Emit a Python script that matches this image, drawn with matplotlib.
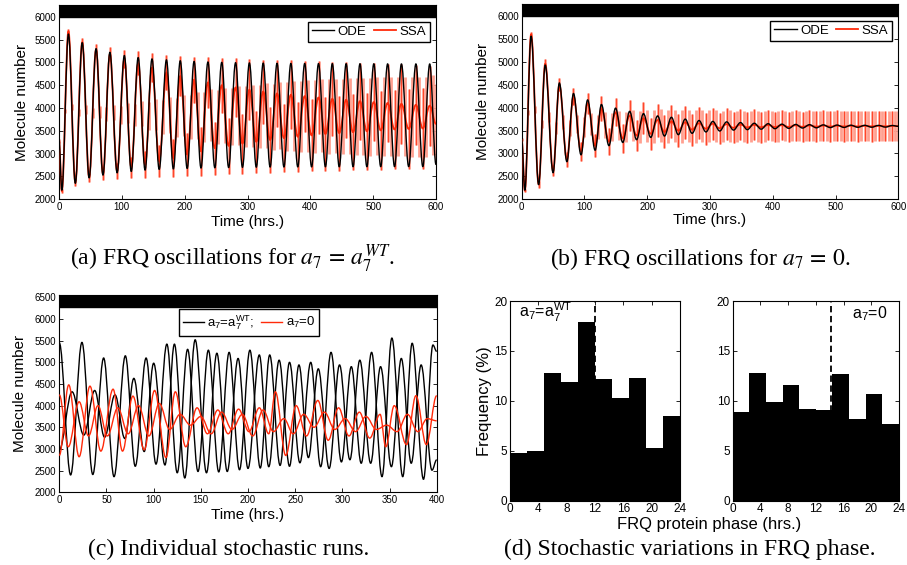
import matplotlib
matplotlib.use('Agg')
import matplotlib.pyplot as plt
from matplotlib.path import Path
from matplotlib.patches import PathPatch
from matplotlib.lines import Line2D

plt.rcParams['font.family'] = ['Liberation Sans', 'DejaVu Sans']
plt.rcParams['mathtext.fontset'] = 'custom'
plt.rcParams['mathtext.rm'] = 'Liberation Sans'
plt.rcParams['mathtext.it'] = 'Liberation Sans:italic'
plt.rcParams['mathtext.bf'] = 'Liberation Sans:bold'

# ---------------- data ----------------
# (a) a7 = a7^WT : times of successive extrema (start, trough, peak, ..., end)
a_t = [0, 4.5, 15, 26, 37, 48, 59, 70, 81, 92.5, 104, 115, 126, 137, 148, 159.5,
       171, 182, 193, 204, 215, 226, 237, 248, 259, 270, 281, 292, 303, 314, 325,
       336, 347, 358, 369, 380, 391, 402, 413, 424, 435, 446, 457, 468, 479, 490,
       501, 512, 523, 534, 545, 556.5, 568, 579, 590, 600]
a_ode = [3300, 2200, 5620, 2350, 5430, 2470, 5300, 2530, 5220, 2580, 5150, 2610,
         5105, 2640, 5075, 2655, 5055, 2665, 5035, 2675, 5020, 2685, 5008, 2690,
         5000, 2695, 4993, 2700, 4988, 2703, 4984, 2706, 4980, 2708, 4977, 2710,
         4975, 2710, 4973, 2712, 4971, 2712, 4970, 2714, 4969, 2714, 4968, 2715,
         4967, 2715, 4966, 2716, 4966, 2716, 4965, 2760]
a_ssa = [3280, 2180, 5680, 2370, 5440, 2480, 5280, 2560, 5180, 2620, 5080, 2700,
         4980, 2760, 4880, 2830, 4780, 2900, 4700, 2980, 4620, 3050, 4560, 3120,
         4500, 3170, 4450, 3220, 4400, 3260, 4360, 3300, 4320, 3340, 4290, 3370,
         4260, 3400, 4230, 3430, 4200, 3450, 4180, 3470, 4150, 3490, 4130, 3510,
         4110, 3530, 4090, 3540, 4070, 3550, 4050, 3650]
a_ssa_sd = [40, 40, 60, 70, 90, 100, 120, 140, 160, 180, 200, 230, 260, 290, 320,
            350, 380, 410, 440, 470, 500, 530, 560, 580, 600, 620, 640, 655, 670,
            685, 700, 715, 730, 745, 760, 770, 780, 790, 800, 808, 815, 822, 830,
            836, 842, 848, 854, 858, 862, 866, 870, 873, 876, 878, 880, 880]
# SSA mean and spread where the curve crosses mid-level
a_mid_t = [10, 20.5, 31.5, 42.5, 53.5, 64.5, 75.5, 87, 98, 109.5, 120.5, 131.5,
           142.5, 154, 165, 176.5, 187.5, 198.5, 209.5, 220.5, 231.5, 242.5, 253.5,
           264.5, 275.5, 286.5, 297.5, 308.5, 319.5, 330.5, 341.5, 352.5, 363.5,
           374.5, 385.5, 396.5, 407.5, 418.5, 429.5, 440.5, 451.5, 462.5, 473.5,
           484.5, 495.5, 506.5, 517.5, 528.5, 539.5, 551, 562, 573.5, 584.5, 595]
a_mid_v = [3930, 4020, 3900, 3960, 3880, 3920, 3870, 3900, 3850, 3890, 3840, 3870,
           3820, 3855, 3805, 3840, 3800, 3840, 3800, 3835, 3805, 3840, 3810, 3835,
           3810, 3835, 3810, 3830, 3810, 3830, 3810, 3830, 3815, 3830, 3815, 3830,
           3815, 3830, 3815, 3825, 3815, 3825, 3810, 3820, 3810, 3820, 3810, 3820,
           3810, 3815, 3805, 3810, 3800, 3850]
a_mid_sd = [50, 65, 80, 95, 110, 130, 150, 170, 190, 215, 245, 275, 305, 335, 365,
            395, 425, 455, 485, 515, 545, 570, 590, 610, 630, 648, 662, 678, 692,
            708, 722, 738, 752, 765, 775, 785, 795, 804, 812, 818, 826, 833, 839,
            845, 851, 856, 860, 864, 868, 872, 875, 877, 879, 880]

# (b) a7 = 0
b_t = [0, 5, 15, 27, 37.5, 50, 60, 72, 82.5, 94.5, 105, 117, 127, 139, 149.5, 161,
       172, 183, 194, 205.5, 216.5, 227.5, 238.5, 249.5, 260.5, 271.5, 282.5,
       293.5, 304.5, 315.5, 326.5, 337.5, 348.5, 359.5, 370.5, 381.5, 392.5,
       403.5, 414.5, 425.5, 436.5, 447.5, 458.5, 469.5, 480.5, 491.5, 502.5,
       513.5, 524.5, 535.5, 546.5, 557.5, 568.5, 579.5, 590.5, 600]
b_ode = [3300, 2200, 5560, 2320, 4930, 2580, 4540, 2820, 4310, 2970, 4170, 3070,
         4070, 3170, 3990, 3240, 3920, 3300, 3870, 3350, 3820, 3380, 3790, 3410,
         3750, 3440, 3720, 3470, 3700, 3490, 3690, 3510, 3675, 3520, 3660, 3530,
         3650, 3540, 3640, 3548, 3634, 3555, 3628, 3560, 3624, 3565, 3620, 3568,
         3617, 3571, 3615, 3573, 3613, 3575, 3611, 3592]
b_ssa = [3300, 2190, 5600, 2330, 4960, 2620, 4500, 2870, 4250, 3040, 4100, 3170,
         3980, 3260, 3900, 3330, 3830, 3390, 3770, 3430, 3730, 3470, 3700, 3500,
         3680, 3520, 3660, 3540, 3650, 3550, 3640, 3560, 3632, 3567, 3626, 3572,
         3622, 3576, 3618, 3580, 3615, 3582, 3612, 3585, 3610, 3587, 3608, 3589,
         3606, 3590, 3605, 3591, 3604, 3592, 3603, 3598]
b_ssa_sd = [30, 40, 60, 80, 100, 120, 140, 160, 185, 210, 230, 250, 270, 290, 305,
            320, 330, 340, 350, 355, 360, 360, 360, 358, 355, 352, 350, 348, 346,
            344, 342, 340, 339, 338, 337, 336, 335, 335, 334, 334, 333, 333, 333,
            332, 332, 332, 332, 331, 331, 331, 330, 330, 330, 330, 330, 330]
b_mid_t = [10, 21, 32, 43.5, 55, 66, 77, 88.5, 100, 111, 122, 133, 144, 155, 166.5,
           177.5, 188.5, 200, 211, 222, 233, 244, 255, 266, 277, 288, 299, 310, 321,
           332, 343, 354, 365, 376, 387, 398, 409, 420, 431, 442, 453, 464, 475,
           486, 497, 508, 519, 530, 541, 552, 563, 574, 585, 595]
b_mid_v = [3900, 3960, 3650, 3790, 3560, 3690, 3560, 3650, 3570, 3635, 3575, 3620,
           3580, 3615, 3580, 3610, 3580, 3600, 3585, 3600, 3585, 3600, 3590, 3600,
           3590, 3600, 3592, 3598, 3592, 3598, 3594, 3597, 3594, 3597, 3595, 3597,
           3595, 3597, 3596, 3597, 3596, 3597, 3596, 3597, 3596, 3597, 3597, 3597,
           3597, 3597, 3597, 3597, 3597, 3598]
b_mid_sd = [50, 70, 90, 110, 130, 150, 170, 195, 220, 240, 260, 280, 298, 312, 325,
            335, 345, 352, 358, 360, 360, 359, 356, 353, 351, 349, 347, 345, 343,
            341, 340, 338, 337, 336, 335, 335, 334, 334, 333, 333, 333, 332, 332,
            332, 332, 331, 331, 331, 330, 330, 330, 330, 330, 330]

# (c) individual stochastic runs (extrema)
c_wt1_t = [0, 12, 24, 35.5, 47, 58, 70, 80.5, 92, 102.5, 114, 125, 136, 147, 158,
           169, 180, 191, 202, 213, 223, 234, 244, 255, 266.5, 277, 288, 299,
           309.5, 320, 331, 342, 352.5, 364, 374, 386, 396, 400]
c_wt1_v = [5450, 2400, 5460, 2410, 5100, 2360, 5150, 2600, 5100, 2650, 5420, 2450,
           5300, 2480, 5280, 2470, 5230, 2520, 5280, 2560, 5170, 2620, 5000, 2680,
           5000, 2590, 5230, 2700, 4900, 2670, 5230, 2360, 5560, 2360, 5440, 2300,
           5400, 5250]
c_wt2_t = [0, 13.5, 26, 37.5, 48, 59, 69.5, 79, 90, 100, 112, 122, 133, 144, 156,
           167, 178, 189.5, 200, 212, 222, 233, 244, 254, 264, 274.5, 286, 297,
           308, 318.5, 330, 340.5, 352, 362.5, 373, 383.5, 395, 400]
c_wt2_v = [2980, 4320, 3320, 4350, 3270, 4250, 3240, 4630, 2940, 4980, 2630, 5420,
           2330, 5520, 2450, 5210, 2480, 5090, 2550, 5170, 2590, 5050, 2600, 4940,
           2800, 4850, 2550, 4940, 2750, 5050, 2670, 4900, 2590, 5090, 2670, 4940,
           2510, 2750]
c_a01_t = [0, 10, 21, 32.5, 44, 57, 67, 78, 90, 101, 113, 123, 134, 146, 157, 168,
           179, 190, 201, 212, 222, 229, 240, 251, 262, 274, 285, 296, 307, 318,
           329, 340, 346, 355, 368, 378, 389, 400]
c_a01_v = [2850, 4480, 2820, 4450, 2950, 4380, 2950, 4220, 2980, 4350, 2800, 4320,
           3050, 3950, 3350, 3900, 3350, 3920, 3400, 3950, 3350, 4320, 2850, 4000,
           3300, 4120, 3200, 3950, 3300, 3850, 3250, 3800, 3050, 4000, 3100, 4230,
           3100, 4230]
c_a02_t = [0, 9.5, 21, 31, 41, 51, 62, 73, 84, 95, 106, 117, 128, 139, 150, 161,
           172, 183, 194, 205, 216, 227, 238, 248, 259, 270, 281, 292, 303, 314,
           325, 336, 347, 358, 369, 380, 390, 400]
c_a02_v = [4250, 3050, 4090, 3300, 4000, 3300, 3950, 3350, 4000, 3300, 4050, 3450,
           3800, 3550, 3750, 3350, 3850, 3450, 3800, 3300, 3900, 3400, 3700, 3350,
           3800, 3500, 3850, 3450, 3700, 3400, 3750, 3450, 3550, 3400, 3800, 3400,
           3700, 3650]

# (d) phase histograms
phase_edges = [0, 2.4, 4.8, 7.2, 9.6, 12, 14.4, 16.8, 19.2, 21.6, 24]
freq_wt = [4.8, 4.95, 12.8, 11.85, 17.9, 12.15, 10.25, 12.3, 5.3, 8.5]
freq_a0 = [8.85, 12.75, 9.85, 11.6, 9.15, 9.05, 12.7, 8.15, 10.65, 7.65]
mean_phase_wt = 12.0
mean_phase_a0 = 14.2

RED = '#ff2a0a'
LIGHT = '#ffa090'


def smooth(ax, t, v, color, lw, z):
    verts = [(t[0], v[0])]
    codes = [Path.MOVETO]
    for i in range(1, len(t)):
        d = t[i] - t[i - 1]
        verts += [(t[i - 1] + 0.36 * d, v[i - 1]), (t[i] - 0.36 * d, v[i]), (t[i], v[i])]
        codes += [Path.CURVE4] * 3
    ax.add_patch(PathPatch(Path(verts, codes), fill=False, edgecolor=color, lw=lw,
                           zorder=z, transform=ax.transData, joinstyle='round'))


def style(ax, labelsize=7):
    ax.tick_params(direction='in', top=True, right=True, length=3, width=0.6,
                   labelsize=labelsize, pad=2)
    for s in ax.spines.values():
        s.set_linewidth(0.8)


W, H = 907, 565
fig = plt.figure(figsize=(W / 100, H / 100), dpi=100)


def axes_px(l, t, r, b):
    return fig.add_axes([l / W, 1 - b / H, (r - l) / W, (b - t) / H])


def ts_axes(ax, xmax, xstep, ytick_max, ytop, band_bottom, ylab_x, xlab_y):
    ax.set_xlim(0, xmax)
    ax.set_ylim(2000, ytop)
    ax.set_xticks(list(range(0, xmax + 1, xstep)))
    ax.set_yticks(list(range(2000, ytick_max + 1, 500)))
    ax.axhspan(band_bottom, ytop, color='k', zorder=6)
    style(ax)
    ax.set_ylabel('Molecule number', fontsize=11)
    ax.set_xlabel('Time (hrs.)', fontsize=11)
    ax.yaxis.set_label_coords(ylab_x, 0.5)
    ax.xaxis.set_label_coords(0.5, xlab_y)


def errbars(ax, t, m, sd, strong):
    lo = [a - s for a, s in zip(m, sd)]
    hi = [a + s for a, s in zip(m, sd)]
    ax.vlines(t, lo, hi, color=LIGHT, lw=2.0, zorder=2)
    if strong:
        ax.vlines(t, lo, hi, color=RED, lw=0.6, alpha=0.9, zorder=2.5)


def ssa_panel(ax, t, ode, ssa, sd, mt, mv, msd):
    errbars(ax, mt, mv, msd, False)
    errbars(ax, t, ssa, sd, True)
    smooth(ax, t, ssa, RED, 1.3, 3)
    smooth(ax, t, ode, 'k', 1.0, 4)
    h = [Line2D([], [], color='k', lw=1.0), Line2D([], [], color=RED, lw=1.3)]
    leg = ax.legend(h, ['ODE', 'SSA'], ncol=2, loc='upper right',
                    bbox_to_anchor=(0.984, 0.914), fontsize=9.5, fancybox=False,
                    edgecolor='k', framealpha=1, handlelength=1.7, handletextpad=0.25,
                    columnspacing=0.55, borderpad=0.3, borderaxespad=0)
    leg.get_frame().set_linewidth(1.0)
    leg.set_zorder(10)


# (a)
ax_a = axes_px(59, 5, 436, 199.3)
ts_axes(ax_a, 600, 100, 6000, 6256, 6000, -0.08, -0.08)
ssa_panel(ax_a, a_t, a_ode, a_ssa, a_ssa_sd, a_mid_t, a_mid_v, a_mid_sd)

# (b)
ax_b = axes_px(521.7, 4, 898.3, 199.3)
ts_axes(ax_b, 600, 100, 6000, 6262, 6000, -0.083, -0.072)
ssa_panel(ax_b, b_t, b_ode, b_ssa, b_ssa_sd, b_mid_t, b_mid_v, b_mid_sd)

# (c)
ax_c = axes_px(59.3, 295, 436.7, 492.3)
ts_axes(ax_c, 400, 50, 6500, 6553, 6270, -0.085, -0.08)
smooth(ax_c, c_wt1_t, c_wt1_v, 'k', 1.0, 3)
smooth(ax_c, c_wt2_t, c_wt2_v, 'k', 1.0, 3)
smooth(ax_c, c_a01_t, c_a01_v, RED, 1.0, 4)
smooth(ax_c, c_a02_t, c_a02_v, RED, 1.0, 4)
hc = [Line2D([], [], color='k', lw=1.0), Line2D([], [], color=RED, lw=1.0)]
legc = ax_c.legend(hc, [r'a$_7$=a$_7^{\mathrm{WT}}$;', r'a$_7$=0'], ncol=2,
                   loc='upper center', bbox_to_anchor=(0.503, 0.929), fontsize=9.5,
                   fancybox=False, edgecolor='k', framealpha=1, handlelength=1.6,
                   handletextpad=0.25, columnspacing=0.5, borderpad=0.3,
                   borderaxespad=0)
legc.get_frame().set_linewidth(1.0)
legc.set_zorder(10)

# (d)
ax_d1 = axes_px(510, 301, 680, 500.7)
ax_d2 = axes_px(732.7, 301, 899, 500.7)
for ax, freq, mph in [(ax_d1, freq_wt, mean_phase_wt), (ax_d2, freq_a0, mean_phase_a0)]:
    ax.stairs(freq, phase_edges, fill=True, color='k', zorder=2)
    ax.axvline(mph, color='k', ls=(0, (3.5, 2)), lw=1.3, zorder=1)
    ax.set_xlim(0, 24)
    ax.set_ylim(0, 20)
    ax.set_xticks([0, 4, 8, 12, 16, 20, 24])
    ax.set_yticks([0, 5, 10, 15, 20])
    style(ax, labelsize=8.5)
ax_d1.set_ylabel('Frequency (%)', fontsize=12)
ax_d1.yaxis.set_label_coords(-0.105, 0.5)
ax_d1.text(1.3, 18.3, r'a$_7$=a$_7^{\mathrm{WT}}$', fontsize=11.5, zorder=5)
ax_d2.text(22.3, 18.3, r'a$_7$=0', fontsize=11.5, ha='right', zorder=5)
fig.text(709 / W, 1 - 524 / H, 'FRQ protein phase (hrs.)', ha='center', va='center',
         fontsize=12)

# captions
cap = dict(ha='center', va='center', fontsize=17, fontfamily='Liberation Serif',
           math_fontfamily='stix')
fig.text(232 / W, 1 - 259 / H, r'(a) FRQ oscillations for $a_7\,=\,a_7^{WT}$.', **cap)
fig.text(700 / W, 1 - 259 / H, r'(b) FRQ oscillations for $a_7\,=\,0$.', **cap)
fig.text(229 / W, 1 - 549 / H, '(c) Individual stochastic runs.', **cap)
fig.text(690 / W, 1 - 549 / H, '(d) Stochastic variations in FRQ phase.', **cap)

fig.savefig('out.png', dpi=100)
